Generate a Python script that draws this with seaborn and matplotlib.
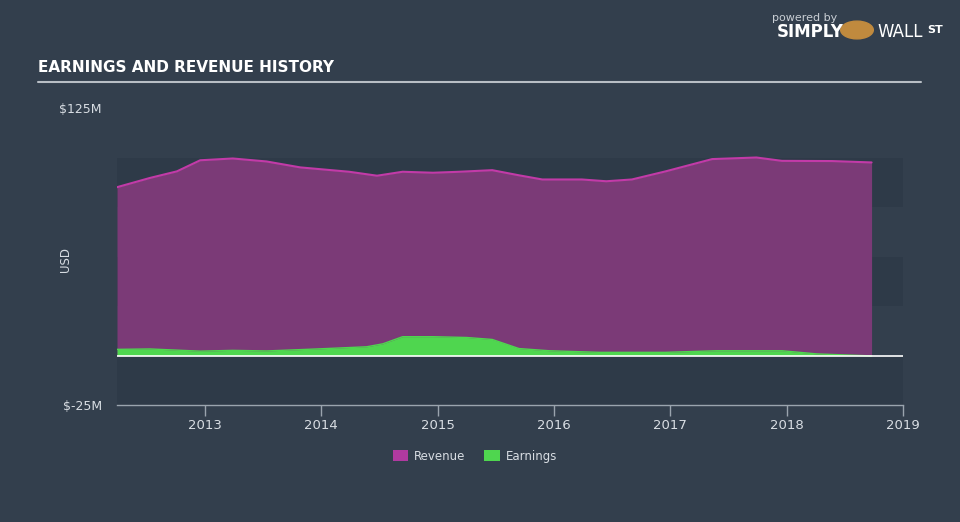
import matplotlib
matplotlib.use("Agg")
import matplotlib.pyplot as plt
import seaborn as sns
import pandas as pd
import numpy as np
from matplotlib.patches import Patch

# ---- data (USD millions) ----
rev_years = [2012.245, 2012.53, 2012.76, 2012.96, 2013.24, 2013.53, 2013.82, 2014.24,
             2014.48, 2014.70, 2014.96, 2015.19, 2015.47, 2015.70, 2015.90, 2016.24,
             2016.45, 2016.67, 2016.96, 2017.36, 2017.74, 2017.96, 2018.39, 2018.73]
revenue = [85.0, 89.7, 93.0, 98.6, 99.5, 98.0, 95.0, 92.8,
           90.8, 92.8, 92.3, 92.8, 93.6, 91.0, 88.9, 88.9,
           88.0, 88.9, 93.0, 99.2, 100.0, 98.3, 98.2, 97.5]

earn_years = [2012.245, 2012.53, 2012.96, 2013.24, 2013.53, 2013.96, 2014.39, 2014.53,
              2014.70, 2014.96, 2015.25, 2015.47, 2015.70, 2015.96, 2016.39, 2016.96,
              2017.40, 2017.96, 2018.26, 2018.73]
earnings = [3.1, 3.3, 2.2, 2.6, 2.3, 3.3, 4.4, 5.9,
            9.5, 9.5, 9.1, 8.1, 3.5, 2.4, 1.6, 1.6,
            2.4, 2.4, 0.8, -0.2]

y_ticks = [-25, 125]
y_tick_labels = ["$-25M", "$125M"]
x_ticks = [2013, 2014, 2015, 2016, 2017, 2018, 2019]

BG = "#333f4d"
BAND = "#2e3a48"
REV_FILL = "#7b3a77"
REV_LINE = "#c23aa8"
EARN = "#4fd64f"
TXT = "#d8dde3"

sns.set_theme(style="dark")
plt.rcParams["font.family"] = ["DejaVu Sans"]

fig = plt.figure(figsize=(9.6, 5.22), dpi=100, facecolor=BG)
ax = fig.add_axes([117/960, 1-405/522, 786/960, 297/522])
ax.set_facecolor(BG)

# alternating bands
for lo, hi in [(75, 100), (25, 50), (-25, 0)]:
    ax.axhspan(lo, hi, color=BAND, zorder=0, lw=0)

df_rev = pd.DataFrame({"year": rev_years, "value": revenue})
df_earn = pd.DataFrame({"year": earn_years, "value": earnings})

ax.fill_between(df_rev["year"], 0, df_rev["value"], color=REV_FILL, lw=0, zorder=1)
sns.lineplot(data=df_rev, x="year", y="value", ax=ax, color=REV_LINE, lw=1.5, zorder=2)
ax.fill_between(df_earn["year"], 0, df_earn["value"], color=EARN, lw=0, zorder=3)
sns.lineplot(data=df_earn, x="year", y="value", ax=ax, color=EARN, lw=1.0, zorder=3)

ax.axhline(0, color="white", lw=1.2, zorder=4)

ax.set_xlim(2012.245, 2019.0)
ax.set_ylim(-25, 125)
ax.set_yticks(y_ticks)
ax.set_yticklabels(y_tick_labels, color=TXT, fontsize=9)
ax.tick_params(axis="y", length=0, pad=11)
ax.set_xticks(x_ticks)
ax.set_xticklabels([str(t) for t in x_ticks], color=TXT, fontsize=9.5)
ax.tick_params(axis="x", length=8, color="#9aa4ae", width=1, direction="out", pad=2, bottom=True)
ax.grid(False)
for s in ["top", "right", "left"]:
    ax.spines[s].set_visible(False)
ax.spines["bottom"].set_color("#9aa4ae")
ax.spines["bottom"].set_linewidth(1)
ax.set_xlabel("")
ax.set_ylabel("")
fig.text(66/960, 1-260/522, "USD", color=TXT, fontsize=8.5, rotation=90, ha="center", va="center")

# title and rule
fig.text(38/960, 1-68/522, "EARNINGS AND REVENUE HISTORY", color="white",
         fontsize=11, fontweight="bold", va="center", ha="left")
fig.add_artist(plt.Line2D([38/960, 921/960], [1-82/522, 1-82/522], color="#b8bec5", lw=1.5))

# legend
handles = [Patch(facecolor="#b03aa0", edgecolor="none", label="Revenue"),
           Patch(facecolor=EARN, edgecolor="none", label="Earnings")]
leg = fig.legend(handles=handles, loc="center", bbox_to_anchor=(475/960, 1-456/522), ncol=2,
                 frameon=False, fontsize=8.5, handlelength=1.3, handleheight=1.1,
                 columnspacing=1.6, handletextpad=0.5)
for t in leg.get_texts():
    t.set_color(TXT)

# branding
fig.text(805/960, 1-18/522, "powered by", color="#c9ced4", fontsize=8, ha="center", va="center")
fig.text(810/960, 1-32/522, "SIMPLY", color="white", fontsize=12, fontweight="bold", ha="center", va="center")
fig.add_artist(plt.Circle((857/960, 1-30/522), 0.017, transform=fig.transFigure, color="#c08a3e"))
fig.text(900/960, 1-32/522, "WALL", color="white", fontsize=12, ha="center", va="center")
fig.text(935/960, 1-30/522, "ST", color="white", fontsize=8, fontweight="bold", ha="center", va="center")

fig.savefig("out.png", dpi=100, facecolor=BG)
